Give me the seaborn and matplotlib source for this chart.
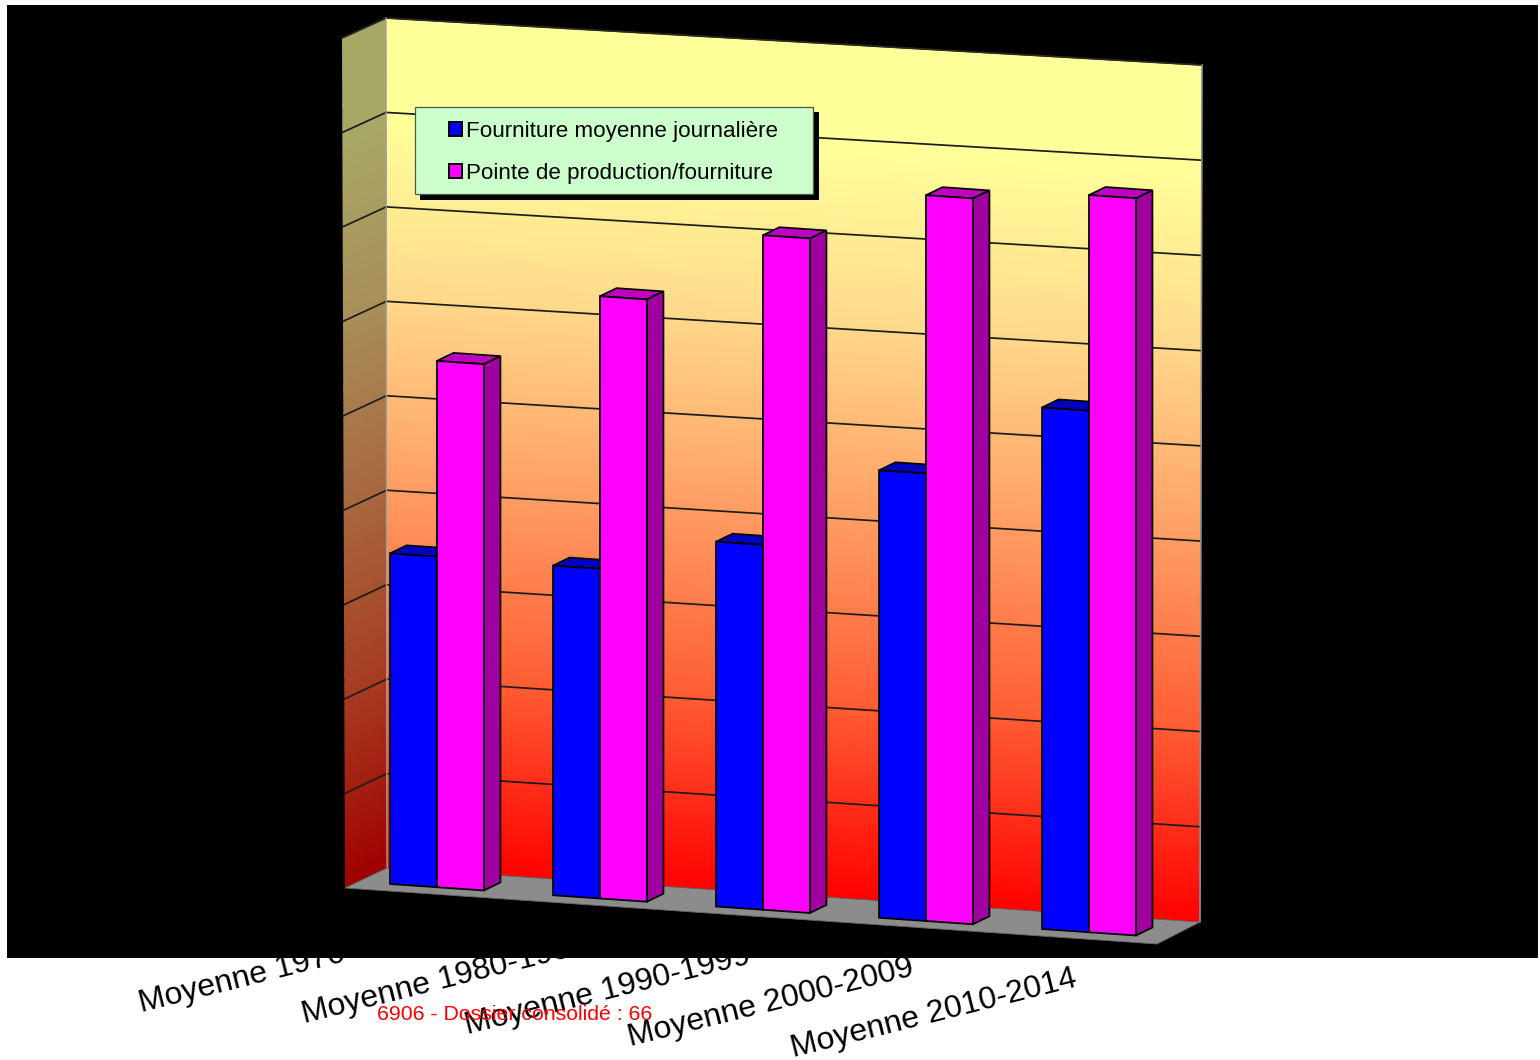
import numpy as np
import pandas as pd
import matplotlib
matplotlib.use("Agg")
import matplotlib.pyplot as plt
import seaborn as sns
from matplotlib.colors import LinearSegmentedColormap
from matplotlib.patches import Polygon, Rectangle, Patch
from matplotlib.path import Path
from matplotlib.transforms import Affine2D, Transform

periods = ["Moyenne 1970-1979", "Moyenne 1980-1989", "Moyenne 1990-1999",
           "Moyenne 2000-2009", "Moyenne 2010-2014"]
daily_supply = [3.48, 3.47, 3.84, 4.71, 5.49]
peak_supply = [5.54, 6.34, 7.10, 7.64, 7.76]
series_names = ["Fourniture moyenne journalière", "Pointe de production/fourniture"]
grid_values = list(range(10))
footer = "6906 - Dossier consolidé : 66"

W, H = 1540, 1060
sns.set_style("white")
plt.rcParams["font.family"] = ["Liberation Sans", "DejaVu Sans"]


class QuadMap(Transform):
    """Bilinear map from a data box onto a four-cornered pixel region."""
    input_dims = output_dims = 2
    is_separable = False
    has_inverse = False
    is_affine = False

    def __init__(self, x_range, y_range, corners):
        super().__init__()
        self.x_range, self.y_range = x_range, y_range
        self.corners = np.array(corners, float)

    def transform_non_affine(self, values):
        values = np.asarray(values, float)
        s = ((values[:, 0] - self.x_range[0]) / (self.x_range[1] - self.x_range[0]))[:, None]
        t = ((values[:, 1] - self.y_range[0]) / (self.y_range[1] - self.y_range[0]))[:, None]
        a, b, c, d = self.corners
        return (1 - s) * (1 - t) * a + s * (1 - t) * b + s * t * c + (1 - s) * t * d


# pixel space (origin at top left) to display space
to_display = Affine2D().scale(1, -1).translate(0, H)

x_lo, x_hi = -0.5, len(periods) - 0.5
v_top = grid_values[-1]
back_wall = QuadMap((x_lo, x_hi), (0, v_top),
                    [(387, 868), (1200, 922), (1202, 65), (386, 18)]) + to_display
side_wall = QuadMap((0, 1), (0, v_top),
                    [(345, 888), (387, 868), (386, 18), (342, 38)]) + to_display
floor = QuadMap((x_lo, x_hi), (0, 1),
                [(345, 888), (1157, 944), (1200, 922), (387, 868)]) + to_display
# plane holding the front faces of the bars
front = Affine2D.from_values(163.0, 11.26, 0, -95, 437, 887.2) + to_display
pixels = to_display

fig = plt.figure(figsize=(W / 100, H / 100), dpi=100, facecolor="white")
ax = fig.add_axes([0, 0, 1, 1])

frame = pd.DataFrame({
    "period": periods * 2,
    "value": daily_supply + peak_supply,
    "series": [series_names[0]] * 5 + [series_names[1]] * 5,
})
palette = {series_names[0]: "#0000FF", series_names[1]: "#FF00FF"}
sns.barplot(data=frame, x="period", y="value", hue="series", palette=palette,
            saturation=1, width=0.576, gap=0, dodge=True, legend=False,
            edgecolor="black", linewidth=1.3, errorbar=None, ax=ax)
bars = list(ax.patches)
ax.set_axis_off()

# category labels sit below the black panel
for i, label in enumerate(periods):
    ax.text(141 + 163 * i, 1012.5 + 11.1 * i, label, transform=pixels, fontsize=23.0,
            rotation=14, rotation_mode="anchor", ha="left", va="baseline", color="black",
            zorder=0.5, clip_on=False)

ax.add_patch(Rectangle((7, 5), 1531, 953, facecolor="black", edgecolor="none",
                       transform=pixels, zorder=1, clip_on=False))

# gradient walls, trimmed to their outlines
ramp = LinearSegmentedColormap.from_list("wall", [
    (0.0, "#FF0000"), (0.22, "#FF5A32"), (0.45, "#FF9E64"),
    (0.68, "#FFDA8C"), (0.88, "#FFFF99"), (1.0, "#FFFF99")])
ramp_dark = LinearSegmentedColormap.from_list("side", [
    (0.0, "#A00000"), (0.22, "#A63A20"), (0.45, "#A8683F"),
    (0.68, "#A89059"), (0.88, "#A8A866"), (1.0, "#A8A866")])
levels = np.linspace(0, v_top, 241)
shade = (levels[:-1] + levels[1:]) / 2 / v_top
for tf, cmap, xs in ((back_wall, ramp, [x_lo, x_hi]), (side_wall, ramp_dark, [0, 1])):
    pad = 0.02
    mesh = ax.pcolormesh(np.linspace(xs[0] - pad, xs[1] + pad, 41), np.linspace(-pad, v_top + pad, 241),
                         np.tile(shade[:, None], (1, 40)), cmap=cmap, vmin=0, vmax=1,
                         transform=tf, zorder=2, shading="flat", antialiased=False, linewidth=0)
    outline = Path([(xs[0], 0), (xs[1], 0), (xs[1], v_top), (xs[0], v_top), (xs[0], 0)], closed=True)
    mesh.set_clip_path(outline, transform=tf)
    for v in grid_values[1:]:
        ax.plot(xs, [v, v], color="#1c1c1c", lw=1.25, transform=tf, zorder=3, clip_on=False)
    ax.plot(xs, [v_top, v_top], color="#2a2a20", lw=1.0, transform=tf, zorder=3, clip_on=False)

ax.plot([x_hi, x_hi], [0, v_top], color="#909090", lw=1.2, transform=back_wall, zorder=3, clip_on=False)
ax.plot([x_lo, x_lo], [0, v_top], color="#A0A0A0", lw=1.0, transform=back_wall, zorder=3, clip_on=False)

ax.add_patch(Polygon([(x_lo, 0), (x_hi, 0), (x_hi, 1), (x_lo, 1)], closed=True, facecolor="#8C8C8C",
                     edgecolor="#666666", linewidth=0.6, transform=floor, zorder=3, clip_on=False))

# depth faces for each bar, derived from the seaborn rectangles
shades = {"#0000FF": ("#0000C0", "#0000A0"), "#FF00FF": ("#C000C0", "#A000A0")}
shift = np.array([16.5, 8.0])
for idx, bar in enumerate(bars):
    colour = "#0000FF" if idx < 5 else "#FF00FF"
    top_c, side_c = shades[colour]
    x0, w, h = bar.get_x(), bar.get_width(), bar.get_height()
    corners = front.transform([(x0, h), (x0 + w, h), (x0 + w, 0)])
    back = corners + shift
    base_z = 5 + idx % 5 * 3 + (0 if idx < 5 else 1.5)
    ax.add_patch(Polygon([corners[0], corners[1], back[1], back[0]], closed=True, facecolor=top_c,
                         edgecolor="black", linewidth=1.25, transform=None, zorder=base_z, clip_on=False))
    ax.add_patch(Polygon([corners[1], corners[2], back[2], back[1]], closed=True, facecolor=side_c,
                         edgecolor="black", linewidth=1.25, transform=None, zorder=base_z, clip_on=False))
    bar.set_transform(front)
    bar.set_clip_on(False)
    bar.set_zorder(base_z + 1)

# legend with its offset shadow
ax.add_patch(Rectangle((420, 112), 399, 88, facecolor="black", edgecolor="none",
                       transform=pixels, zorder=40, clip_on=False))
ax.add_patch(Rectangle((415, 107), 398, 87, facecolor="#CCFFCC", edgecolor="#4a5a4a", linewidth=0.9,
                       transform=pixels, zorder=41, clip_on=False))
handles = [Patch(facecolor=palette[n], edgecolor="black", linewidth=1.4, label=n) for n in series_names]
leg = ax.legend(handles=handles, loc="upper left", frameon=False, fontsize=16.1,
                bbox_to_anchor=(449, 121), bbox_transform=pixels,
                borderpad=0, borderaxespad=0, handlelength=0.57, handleheight=0.57,
                handletextpad=0.18, labelspacing=0.95, labelcolor="black")
leg.set_zorder(42)

ax.text(515, 1014.5, footer, transform=pixels, color="#FF0000", fontsize=15.3, ha="center",
        va="center", zorder=60, clip_on=False)

fig.savefig("out.png", dpi=100, facecolor="white")
